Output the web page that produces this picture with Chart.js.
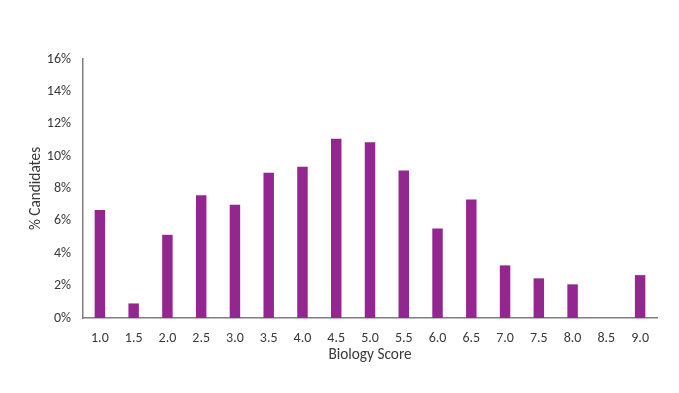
<!DOCTYPE html>
<html>
<head>
<meta charset="utf-8">
<script src="https://cdn.jsdelivr.net/npm/chart.js@4/dist/chart.umd.min.js"></script>
<style>
    html, body { margin: 0; padding: 0; background: #fff; }
    #wrap { width: 679px; height: 393px; }
</style>
</head>
<body>
<div id="wrap"><canvas id="scoreChart" width="679" height="393"></canvas></div>
<script>
// Biology score distribution (% of candidates per half-point score)
const scores = ['1.0', '1.5', '2.0', '2.5', '3.0', '3.5', '4.0', '4.5', '5.0',
                '5.5', '6.0', '6.5', '7.0', '7.5', '8.0', '8.5', '9.0'];
const pctCandidates = [6.67, 0.90, 5.14, 7.59, 6.99, 8.97, 9.34, 11.07, 10.86,
                       9.11, 5.53, 7.32, 3.25, 2.45, 2.08, 0, 2.65];
const yTicks = [0, 2, 4, 6, 8, 10, 12, 14, 16];

const FONT = 'Carlito, Calibri, Lato, "Open Sans", sans-serif';
const TEXT = '#3a3a3a';

(function () {
    const ctx = document.getElementById('scoreChart').getContext('2d');

    new Chart(ctx, {
        type: 'bar',
        data: {
            labels: scores,
            datasets: [{
                data: pctCandidates,
                backgroundColor: '#93278f',
                categoryPercentage: 1.0,
                barPercentage: 0.31
            }]
        },
        options: {
            responsive: false,
            animation: false,
            layout: { padding: { top: 59, right: 22, left: 27, bottom: 29 } },
            plugins: { legend: { display: false }, tooltip: { enabled: false } },
            scales: {
                x: {
                    grid: { display: false, drawTicks: false },
                    border: { color: '#7f7f7f', width: 1.5 },
                    ticks: { color: TEXT, font: { family: FONT, size: 14 }, padding: 12, maxRotation: 0 },
                    title: { display: true, text: 'Biology Score', color: TEXT, font: { family: FONT, size: 15.3 }, padding: 0 },
                    afterFit: function (scale) { scale.height = 46; }
                },
                y: {
                    min: 0,
                    max: 16,
                    grid: { display: false, drawTicks: false },
                    border: { color: '#7f7f7f', width: 1.5 },
                    afterBuildTicks: function (scale) {
                        scale.ticks = yTicks.map(v => ({ value: v }));
                    },
                    ticks: {
                        color: TEXT,
                        font: { family: FONT, size: 14 },
                        padding: 12,
                        callback: v => v + '%'
                    },
                    title: { display: true, text: '% Candidates', color: TEXT, font: { family: FONT, size: 15.3 }, padding: 0 },
                    afterFit: function (scale) { scale.width = 56; }
                }
            }
        }
    });
})();
</script>
</body>
</html>
